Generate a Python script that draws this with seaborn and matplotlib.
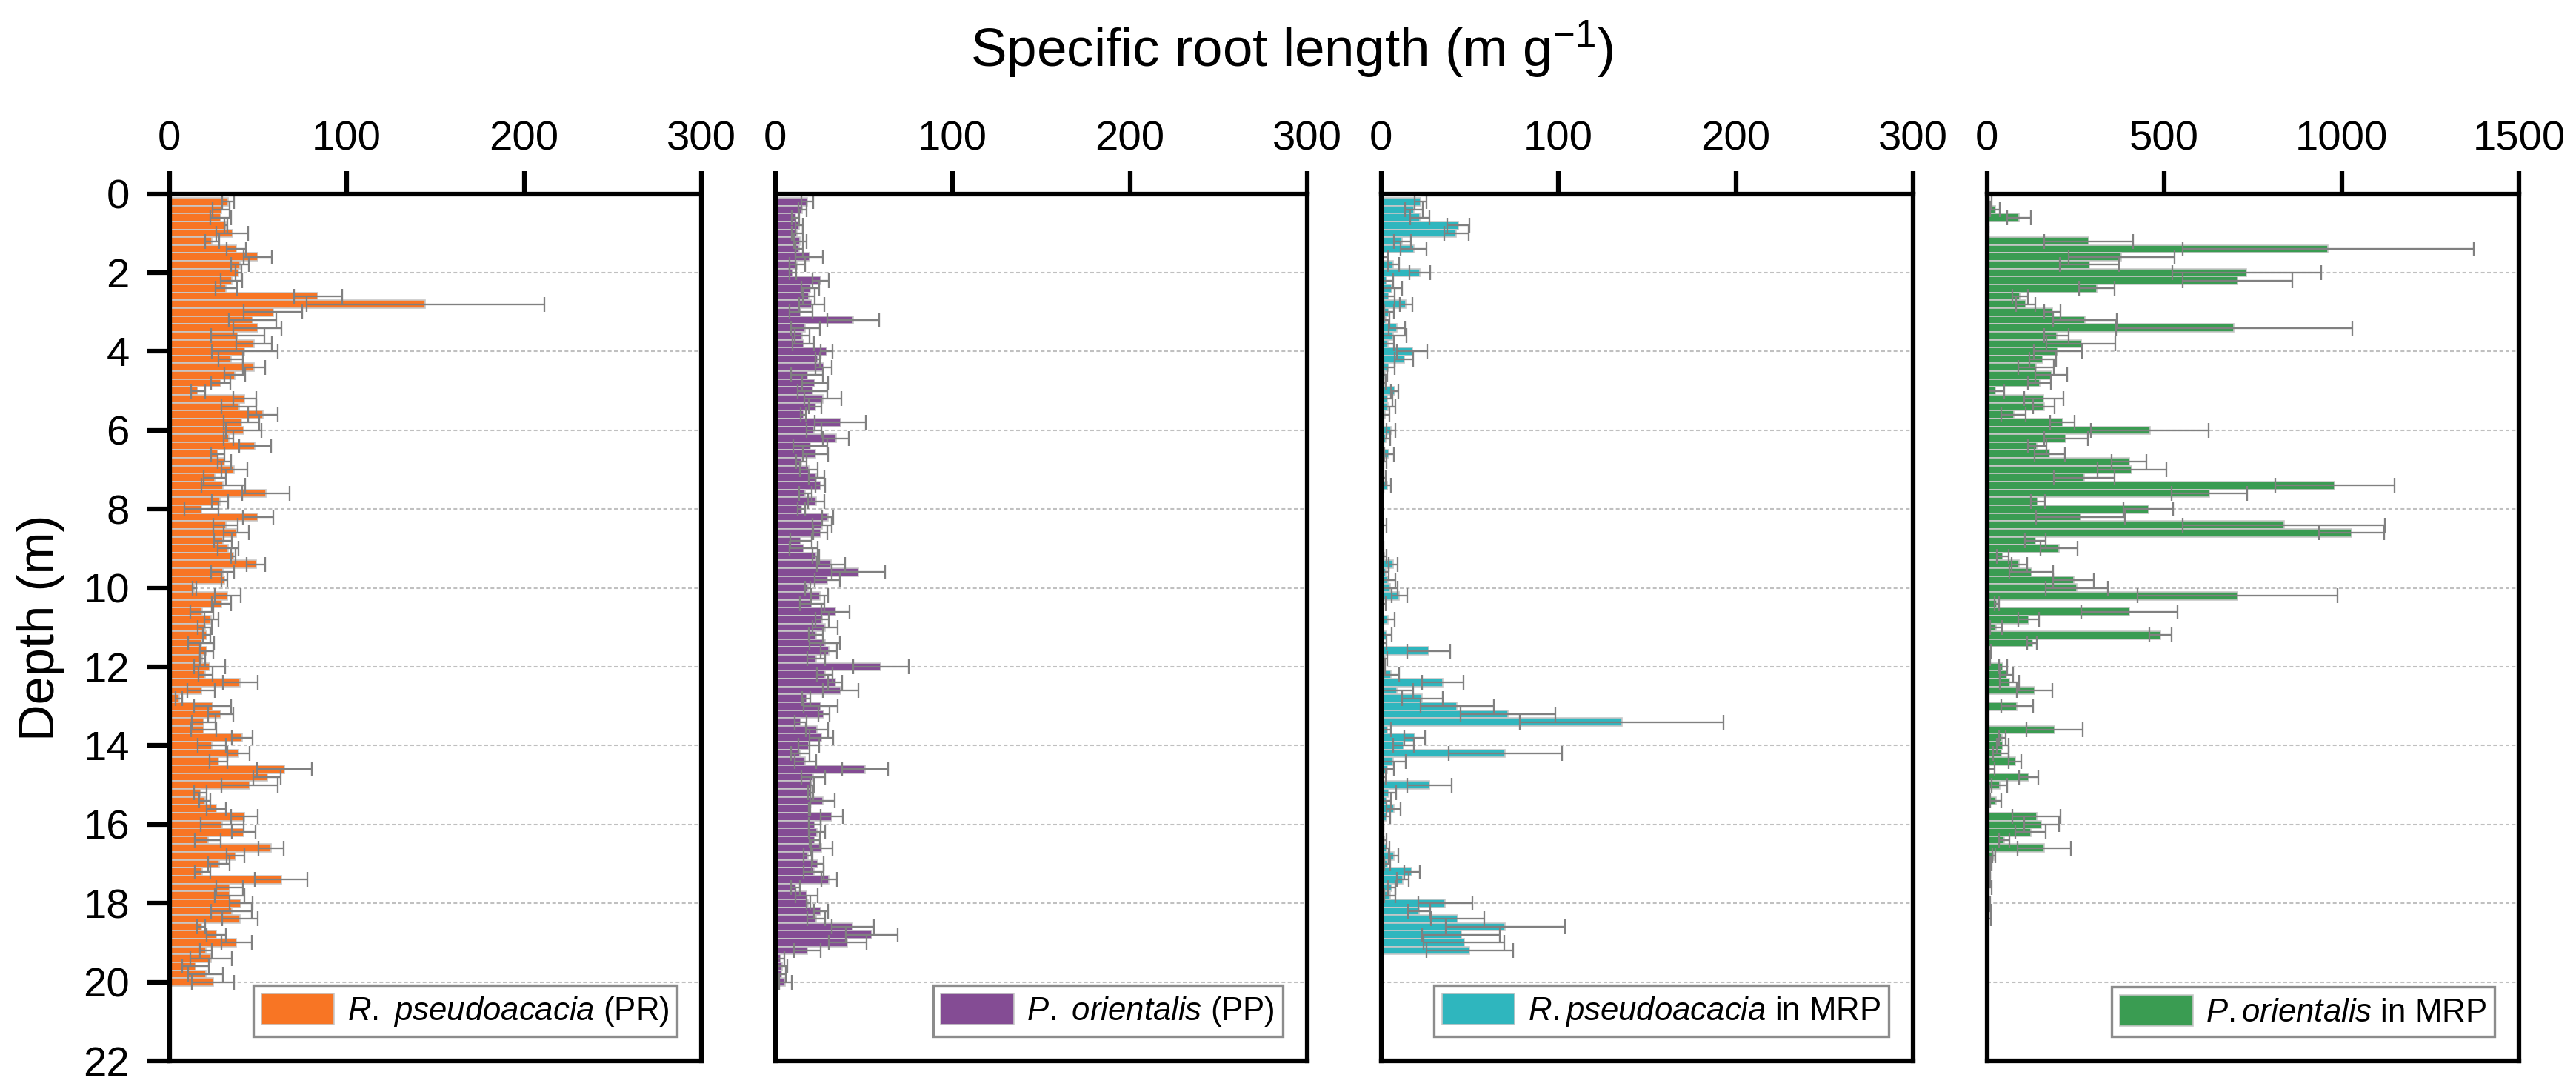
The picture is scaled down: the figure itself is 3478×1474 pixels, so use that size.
import numpy as np
import pandas as pd
import matplotlib
matplotlib.use("Agg")
import matplotlib.pyplot as plt
from matplotlib.patches import Patch
import seaborn as sns

# ---------------- data ----------------
depth = np.round(np.arange(1, 101) * 0.2, 1)   # sampling depths (m)

pr_mean = [33.1, 29.3, 28.9, 31.7, 35.6, 24.0, 37.7, 49.7, 39.9, 39.0,
           35.0, 32.0, 83.8, 144.4, 58.5, 46.8, 49.7, 38.5, 47.9, 42.5,
           34.6, 47.6, 36.9, 29.0, 16.2, 42.5, 39.2, 52.7, 40.8, 42.0,
           33.5, 48.3, 27.2, 31.0, 36.6, 25.6, 30.3, 54.4, 28.5, 18.0,
           50.0, 31.7, 37.7, 30.3, 33.1, 35.9, 48.9, 30.0, 31.0, 14.0,
           32.9, 29.3, 18.3, 23.6, 20.0, 21.0, 17.9, 21.0, 18.6, 22.6,
           20.3, 40.0, 18.0, 5.4, 24.3, 29.0, 19.4, 19.4, 41.0, 24.0,
           38.9, 27.6, 65.0, 55.1, 45.3, 17.6, 20.0, 26.4, 42.3, 29.7,
           42.0, 21.7, 57.4, 37.4, 27.9, 18.6, 63.0, 34.0, 34.0, 40.4,
           35.0, 39.7, 17.9, 26.4, 37.9, 20.7, 23.6, 14.7, 20.4, 24.6]
pr_sd = [3.5, 4.8, 6.0, 0.8, 9.0, 4.0, 5.3, 8.0, 5.0, 1.5,
         6.0, 6.0, 13.5, 67.0, 16.5, 13.3, 13.5, 15.0, 10.0, 18.5,
         7.0, 6.2, 6.0, 5.5, 3.8, 6.4, 9.9, 8.4, 10.0, 10.0,
         2.7, 8.9, 3.8, 3.8, 7.3, 6.3, 12.4, 13.4, 4.5, 9.7,
         8.6, 6.8, 7.0, 5.0, 5.7, 1.3, 5.3, 6.3, 1.8, 1.0,
         7.5, 5.5, 6.4, 3.9, 4.0, 2.0, 7.4, 3.6, 1.5, 8.9,
         4.0, 9.7, 7.7, 2.0, 10.4, 7.1, 6.6, 7.1, 6.0, 8.0,
         6.3, 4.9, 15.5, 7.7, 16.0, 3.6, 3.3, 5.4, 7.6, 12.0,
         6.6, 7.4, 7.1, 5.0, 6.0, 4.3, 14.8, 7.6, 8.2, 6.4,
         11.6, 10.0, 2.4, 5.3, 8.6, 3.3, 11.8, 7.4, 10.0, 12.0]

pp_mean = [18.1, 15.3, 11.3, 13.4, 12.4, 14.1, 13.4, 19.2, 12.4, 9.9,
           25.4, 19.8, 19.0, 20.5, 14.4, 44.0, 17.0, 15.3, 15.8, 29.0,
           24.0, 27.3, 17.9, 22.3, 20.9, 26.8, 22.6, 15.8, 36.7, 21.9,
           34.3, 19.8, 22.6, 14.8, 19.0, 23.3, 25.4, 17.0, 22.9, 14.8,
           29.7, 26.4, 25.4, 14.4, 16.0, 22.9, 31.4, 47.0, 29.4, 18.4,
           25.0, 20.7, 34.0, 26.4, 28.3, 22.9, 27.9, 30.3, 22.9, 59.6,
           27.9, 33.9, 36.7, 17.6, 25.4, 27.4, 14.3, 23.6, 26.0, 18.9,
           14.0, 17.0, 50.7, 21.4, 20.7, 20.0, 26.7, 19.3, 31.9, 22.1,
           23.7, 22.3, 26.1, 18.6, 24.0, 21.7, 30.4, 11.4, 17.6, 18.6,
           25.7, 22.9, 43.7, 54.4, 40.7, 18.0, 2.9, 4.0, 3.6, 5.7]
pp_sd = [3.3, 2.3, 2.0, 2.0, 3.0, 3.4, 2.0, 7.6, 4.4, 2.0,
         4.6, 5.0, 3.4, 7.0, 6.5, 14.7, 8.0, 4.2, 6.0, 3.4,
         1.3, 4.7, 8.9, 7.3, 8.3, 10.3, 3.5, 1.5, 14.4, 4.2,
         7.3, 9.7, 7.1, 2.8, 5.0, 4.5, 2.6, 3.4, 4.6, 2.1,
         3.1, 5.6, 4.0, 6.0, 8.0, 1.8, 8.0, 15.0, 7.0, 1.5,
         4.7, 7.0, 8.0, 3.7, 7.1, 4.1, 8.6, 4.6, 5.0, 15.7,
         4.5, 4.0, 10.0, 2.3, 9.6, 3.2, 3.3, 6.3, 6.6, 5.9,
         5.3, 5.9, 12.9, 6.7, 1.0, 1.3, 7.0, 0.5, 6.1, 3.3,
         4.6, 2.8, 6.0, 2.4, 3.4, 5.6, 4.4, 2.5, 6.4, 1.0,
         3.9, 5.0, 12.0, 14.6, 10.6, 7.6, 2.4, 2.7, 2.3, 3.6]

rm_mean = [22.3, 18.6, 21.8, 43.7, 42.5, 12.0, 18.3, 1.5, 7.0, 21.8,
           3.1, 5.9, 4.5, 14.1, 4.5, 2.8, 8.7, 7.0, 3.9, 17.6,
           13.0, 4.5, 2.1, 1.7, 7.7, 3.5, 3.9, 2.1, 0.7, 5.4,
           2.5, 0.7, 4.5, 1.4, 0.7, 1.1, 3.5, 0.4, 0.3, 0.3,
           0.1, 1.1, 0.3, 0.3, 0.7, 1.7, 6.8, 2.8, 3.9, 5.0,
           10.3, 1.1, 0.4, 4.0, 0.3, 3.1, 1.4, 26.9, 2.1, 1.1,
           5.7, 34.6, 9.0, 23.3, 42.9, 71.7, 135.7, 3.6, 19.0, 12.6,
           70.0, 6.7, 3.6, 1.1, 27.1, 4.3, 3.1, 7.1, 3.1, 0.7,
           0.4, 1.7, 2.9, 7.1, 3.6, 17.4, 12.1, 6.0, 5.0, 36.1,
           21.4, 43.1, 70.0, 45.1, 46.7, 50.0, None, None, None, None]
rm_sd = [3.5, 5.0, 5.5, 6.2, 6.8, 4.8, 7.3, 2.5, 3.2, 5.7,
         3.5, 6.0, 3.0, 3.7, 2.7, 2.0, 4.6, 7.4, 3.5, 8.5,
         5.2, 3.3, 1.2, 1.0, 2.0, 2.8, 4.2, 2.5, 0.5, 2.5,
         2.8, 0.5, 2.7, 1.5, 0.5, 1.4, 2.0, 0.3, 0.2, 0.8,
         0.0, 1.8, 0.3, 0.5, 0.7, 1.2, 2.5, 1.7, 4.0, 4.3,
         4.4, 1.5, 0.3, 3.8, 0.3, 3.0, 1.8, 12.1, 1.4, 1.0,
         4.3, 11.7, 9.0, 11.6, 20.6, 26.7, 57.3, 2.1, 5.9, 6.0,
         32.0, 7.0, 3.8, 1.7, 12.5, 4.0, 2.5, 4.0, 2.1, 0.5,
         0.8, 1.4, 2.0, 2.7, 1.6, 4.4, 3.3, 2.0, 3.0, 15.3,
         6.3, 15.0, 33.6, 22.0, 22.7, 24.3, None, None, None, None]

pm_mean = [6, 23, 91, 2, 2, 287, 962, 379, 289, 732,
           707, 309, 93, 109, 184, 276, 697, 196, 265, 200,
           157, 139, 182, 148, 23, 160, 161, 75, 213, 460,
           223, 141, 177, 401, 408, 274, 981, 627, 143, 455,
           264, 837, 1028, 137, 203, 45, 91, 125, 244, 253,
           707, 27, 401, 118, 25, 489, 127, 6, 4, 45,
           55, 64, 135, 0, 85, 1, 0, 190, 43, 45,
           40, 79, 6, 117, 36, 3, 25, 1, 140, 154,
           123, 49, 162, 19, 11, 6, 5, 4, 2, 4,
           4, 2, None, None, None, None, None, None, None, None]
pm_sd = [8, 13, 33, 3, 3, 126, 410, 149, 83, 210,
         155, 50, 22, 27, 23, 90, 334, 35, 97, 67,
         38, 50, 45, 33, 25, 55, 30, 34, 35, 166,
         61, 26, 42, 49, 97, 85, 168, 107, 20, 70,
         125, 285, 91, 29, 53, 17, 22, 61, 58, 88,
         282, 6, 136, 29, 17, 32, 13, 6, 5, 12,
         19, 27, 50, 0, 45, 2, 0, 79, 9, 17,
         22, 17, 15, 27, 22, 3, 16, 1, 68, 49,
         43, 14, 75, 4, 3, 4, 4, 10, 2, 5,
         8, 10, None, None, None, None, None, None, None, None]

panel_labels = [r"$\mathit{R.}$ $\mathit{pseudoacacia}$ (PR)",
                r"$\mathit{P.}$ $\mathit{orientalis}$ (PP)",
                r"$\mathit{R.pseudoacacia}$ in MRP",
                r"$\mathit{P.orientalis}$ in MRP"]
panel_colors = ["#F87524", "#844C94", "#2FB6BE", "#3A9C52"]
panel_means = [pr_mean, pp_mean, rm_mean, pm_mean]
panel_sds = [pr_sd, pp_sd, rm_sd, pm_sd]
panel_xmax = [300, 300, 300, 1500]
panel_xticks = [[0, 100, 200, 300], [0, 100, 200, 300],
                [0, 100, 200, 300], [0, 500, 1000, 1500]]
depth_ticks = list(range(0, 23, 2))

title_text = r"Specific root length (m g$^{-1}$)"
ylabel_text = "Depth (m)"

# ---------------- style ----------------
sns.set_theme(style="ticks")
plt.rcParams["font.family"] = ["Liberation Sans", "DejaVu Sans"]
plt.rcParams["mathtext.fontset"] = "custom"
plt.rcParams["mathtext.rm"] = "Liberation Sans"
plt.rcParams["mathtext.it"] = "Liberation Sans:italic"
plt.rcParams["mathtext.bf"] = "Liberation Sans:bold"
plt.rcParams["mathtext.default"] = "regular"
plt.rcParams["text.color"] = "black"
plt.rcParams["axes.labelcolor"] = "black"
plt.rcParams["xtick.color"] = "black"
plt.rcParams["ytick.color"] = "black"

W, H = 3478, 1474
fig = plt.figure(figsize=(W / 300, H / 300), dpi=300)

ax_left0 = 228.7 / W
ax_w = 718.3 / W
ax_step = 818.0 / W
ax_bottom = 1 - 1432 / H
ax_h = (1432 - 261.7) / H

for i in range(4):
    ax = fig.add_axes([ax_left0 + i * ax_step, ax_bottom, ax_w, ax_h])
    df = pd.DataFrame({"depth": depth,
                       "srl": np.array(panel_means[i], dtype=float),
                       "sd": np.array(panel_sds[i], dtype=float)})
    ax.set_axisbelow(True)
    ax.yaxis.grid(True, linestyle=(0, (2.4, 1.6)), color="#c0c0c0", linewidth=0.5)
    ax.xaxis.grid(False)
    sns.barplot(data=df.dropna(), x="srl", y="depth", orient="y", native_scale=True,
                width=1.0, color=panel_colors[i], saturation=1,
                edgecolor="#c8c8c8", linewidth=0.4, errorbar=None, ax=ax, zorder=2)
    ax.errorbar(df["srl"], df["depth"], xerr=df["sd"], fmt="none",
                ecolor="#808080", elinewidth=0.55, capsize=2.5, capthick=0.55,
                zorder=3)
    ax.set_xlim(0, panel_xmax[i])
    ax.set_ylim(22, 0)
    ax.set_xticks(panel_xticks[i])
    ax.set_yticks(depth_ticks)
    ax.set_xlabel("")
    ax.set_ylabel("")
    ax.xaxis.tick_top()
    ax.tick_params(axis="x", top=True, bottom=False, labeltop=True, labelbottom=False,
                   direction="out", length=7.4, width=1.5, labelsize=13.5, pad=4,
                   color="black", labelcolor="black")
    if i == 0:
        ax.tick_params(axis="y", left=True, right=False, labelleft=True,
                       direction="out", length=7.4, width=1.5, labelsize=13.5,
                       pad=5.5, color="black", labelcolor="black")
    else:
        ax.tick_params(axis="y", left=False, right=False, labelleft=False)
    for sp in ax.spines.values():
        sp.set_visible(True)
        sp.set_color("black")
        sp.set_linewidth(1.5)
        sp.set_zorder(5)
    handle = Patch(facecolor=panel_colors[i], edgecolor="#c8c8c8", linewidth=0.4)
    leg = ax.legend([handle], [panel_labels[i]], loc="lower right", fontsize=10.5,
                    frameon=True, fancybox=False, framealpha=1, edgecolor="#8c8c8c",
                    borderpad=0.25, borderaxespad=0.75, handlelength=2.25,
                    handleheight=1.1, handletextpad=0.4)
    leg.get_frame().set_linewidth(0.8)

fig.text(0.5015, 0.955, title_text, ha="center", va="center", fontsize=17.5,
         color="black")
fig.text(55 / W, 0.425, ylabel_text, rotation=90, ha="center", va="center",
         fontsize=16.5, color="black")

fig.savefig("out.png", dpi=300)
